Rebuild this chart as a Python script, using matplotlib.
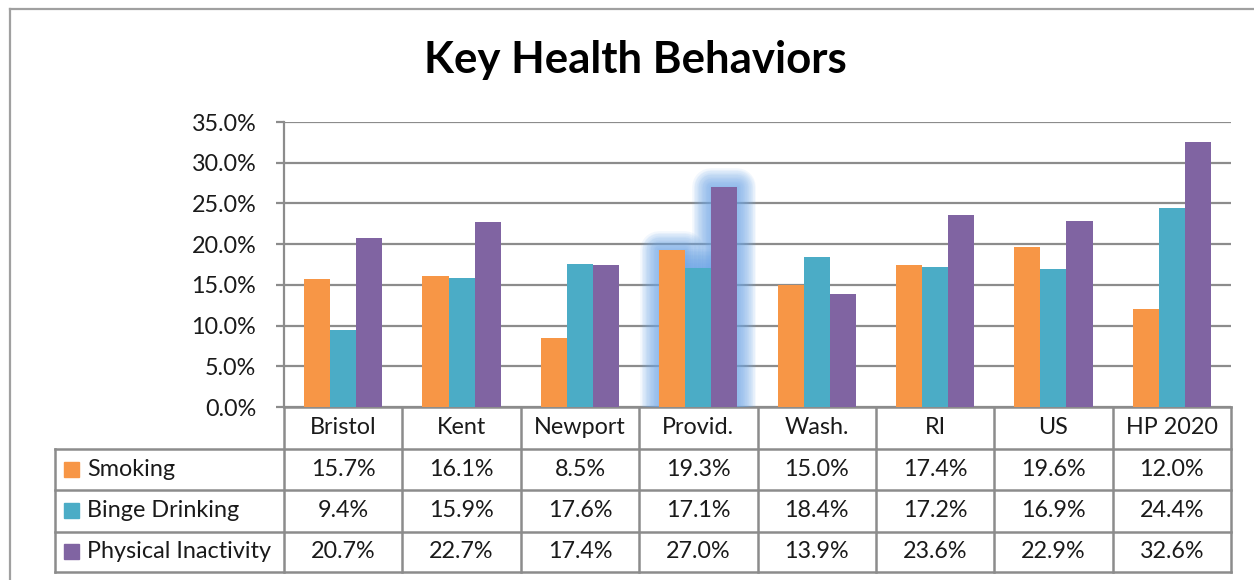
import matplotlib
matplotlib.use("Agg")
import matplotlib.pyplot as plt
import matplotlib.patheffects as pe
from matplotlib.transforms import blended_transform_factory
from matplotlib.ticker import FuncFormatter, MultipleLocator
import numpy as np

categories = ["Bristol", "Kent", "Newport", "Provid.", "Wash.", "RI", "US", "HP 2020"]
series_names = ["Smoking", "Binge Drinking", "Physical Inactivity"]
smoking = [15.7, 16.1, 8.5, 19.3, 15.0, 17.4, 19.6, 12.0]
binge = [9.4, 15.9, 17.6, 17.1, 18.4, 17.2, 16.9, 24.4]
inactivity = [20.7, 22.7, 17.4, 27.0, 13.9, 23.6, 22.9, 32.6]
highlight = "Provid."

series = [smoking, binge, inactivity]
colors = ["#F79646", "#4BACC6", "#8064A2"]
glow_color = "#6FA8E8"
grid_color = "#8C8C8C"
FONT = "Lato"
plt.rcParams["font.family"] = [FONT, "DejaVu Sans"]

W, H = 1254, 580
fig = plt.figure(figsize=(W / 100, H / 100), dpi=100)

# pixel-coordinate overlay
axp = fig.add_axes([0, 0, 1, 1])
axp.set_xlim(0, W)
axp.set_ylim(H, 0)
axp.axis("off")
axp.set_zorder(0)

# plot area
left, right, top, bottom = 284, 1231, 122, 407
ax = fig.add_axes([left / W, (H - bottom) / H, (right - left) / W, (bottom - top) / H])
ax.set_zorder(1)
ax.patch.set_alpha(0)
n = len(categories)
x = np.arange(n)
bw = 0.22
offsets = [-bw, 0, bw]
ax.set_xlim(-0.5, n - 0.5)
ax.set_ylim(0, 35)

# soft glow behind highlighted group
hi = categories.index(highlight)
effects = [pe.Stroke(linewidth=lw, foreground=glow_color, alpha=0.085, joinstyle="round")
           for lw in np.linspace(27, 2, 14)]
for k, vals in enumerate(series):
    b = ax.bar(x[hi] + offsets[k], vals[hi], bw, color=glow_color, alpha=0.0, zorder=2)
    for p in b:
        p.set_path_effects(effects)

for k, vals in enumerate(series):
    ax.bar(x + offsets[k], vals, bw, color=colors[k], zorder=3, linewidth=0)

ax.yaxis.set_major_locator(MultipleLocator(5))
ax.yaxis.set_major_formatter(FuncFormatter(lambda v, p: f"{v:.1f}%"))
ax.grid(axis="y", color=grid_color, linewidth=1.6, zorder=0)
ax.set_axisbelow(True)
for s in ["top", "right", "bottom"]:
    ax.spines[s].set_visible(False)
ax.spines["left"].set_color(grid_color)
ax.spines["left"].set_linewidth(1.6)
fs = 16.8
ax.tick_params(axis="y", length=6, width=1.6, color=grid_color, labelsize=fs, pad=14,
               labelcolor="#1a1a1a")
ax.tick_params(axis="x", bottom=False, labelbottom=False)

# title
axp.text(635, 60, "Key Health Behaviors", fontsize=31.5, fontweight="bold",
         ha="center", va="center", color="black")

# outer frame
axp.plot([10, W + 5], [9, 9], color="#A0A0A0", lw=1.6)
axp.plot([10, 10], [9, H + 5], color="#A0A0A0", lw=1.6)

# data table
tr = blended_transform_factory(ax.transData, axp.transData)
row_y = [407, 448.5, 490, 531.5, 572]
tab_left = 55
lc = grid_color
axp.plot([left, right], [row_y[0], row_y[0]], color=lc, lw=1.8, zorder=5)
for yy in row_y[1:]:
    axp.plot([tab_left, right], [yy, yy], color=lc, lw=1.8, zorder=5)
for i in range(n + 1):
    ax.plot([i - 0.5, i - 0.5], [row_y[0], row_y[-1]], color=lc, lw=1.8,
            transform=tr, clip_on=False, zorder=5)
axp.plot([tab_left, tab_left], [row_y[1], row_y[-1]], color=lc, lw=1.8, zorder=5)

for i, c in enumerate(categories):
    ax.text(x[i], (row_y[0] + row_y[1]) / 2, c, transform=tr, ha="center", va="center",
            fontsize=fs, color="#1a1a1a", clip_on=False)
for k, vals in enumerate(series):
    yc = (row_y[k + 1] + row_y[k + 2]) / 2
    for i, v in enumerate(vals):
        ax.text(x[i], yc, f"{v:.1f}%", transform=tr, ha="center", va="center",
                fontsize=fs, color="#1a1a1a", clip_on=False)
    axp.add_patch(plt.Rectangle((64, yc - 7.5), 15, 15, color=colors[k], zorder=6))
    axp.text(87, yc, series_names[k], ha="left", va="center", fontsize=fs, color="#1a1a1a")

fig.savefig("out.png", dpi=100, facecolor="white")
